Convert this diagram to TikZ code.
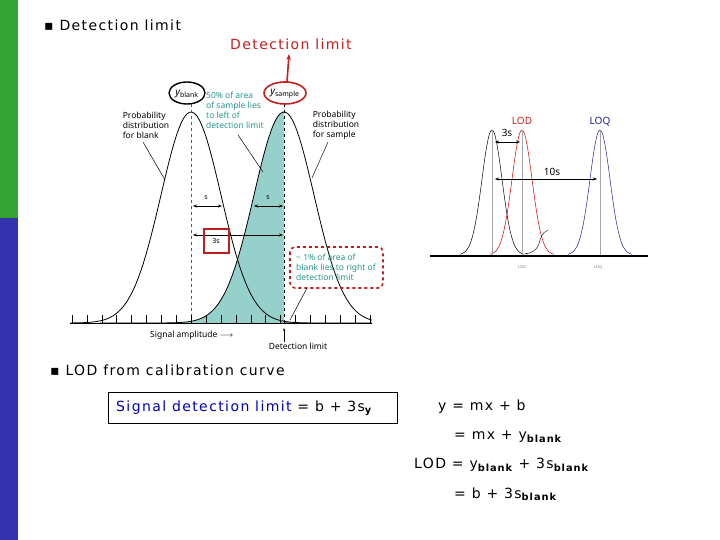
\documentclass[tikz,border=0pt]{standalone}
\usepackage{fontspec}
\setmainfont{DejaVu Sans}
\newfontfamily\nts{Noto Sans}
\newfontfamily\wide[LetterSpace=10]{DejaVu Sans}
\usetikzlibrary{arrows.meta}
\definecolor{teal1}{RGB}{150,208,202}
\definecolor{tealtxt}{RGB}{40,150,140}
\definecolor{redc}{RGB}{200,30,30}
\definecolor{boxred}{RGB}{190,30,30}
\definecolor{navyc}{RGB}{30,30,150}
\tikzset{
 lbl/.style={font=\nts\fontsize{8.5}{10}\selectfont\bfseries, align=left, inner sep=0pt},
 tl/.style={lbl, text=tealtxt, anchor=west},
 big/.style={font=\wide\fontsize{14}{16}\selectfont, inner sep=0pt, anchor=west},
 dim/.style={{Stealth[length=4pt,width=3pt]}-{Stealth[length=4pt,width=3pt]}, line width=0.5pt},
 eq/.style={font=\wide\fontsize{14}{16}\selectfont, inner sep=0pt, anchor=west},
}
\begin{document}
\begin{tikzpicture}[x=1pt,y=-1pt]
\useasboundingbox (0,0) rectangle (720,540);
\fill[white] (0,0) rectangle (720,540);
\fill[green!55!black!80] (0,0) rectangle (18,218);
\fill[blue!60!black!80] (0,218) rectangle (18,540);
\node[big] (t1) at (44,25) {\char"25AA\ Detection limit};
\node[big,text=redc] (dl) at (230,44) {Detection limit};
% left plot
\fill[teal1] plot[domain=100:284,samples=80] (\x,{323-211*exp(-0.5*((\x-284)/30)^2)}) -- (284,323) -- (100,323) -- cycle;
\fill[teal1!70!black] plot[domain=284:330,samples=30] (\x,{323-211*exp(-0.5*((\x-191)/30)^2)}) -- (330,323) -- (284,323) -- cycle;
\draw[line width=0.8pt] plot[domain=70:372,samples=120] (\x,{323-211*exp(-0.5*((\x-191)/30)^2)});
\draw[line width=0.8pt] plot[domain=100:372,samples=120] (\x,{323-211*exp(-0.5*((\x-284)/30)^2)});
\draw[dashed,gray!70!black,line width=0.6pt] (191,104) -- (191,323);
\draw[dashed,line width=1pt] (284,104) -- (284,323);
\draw[line width=1pt] (70,323) -- (372,323);
\foreach \i in {0,...,20} \draw[line width=0.6pt] ({72+\i*14.9},323) -- ({72+\i*14.9},315);
\draw[line width=1.4pt] (187,93) ellipse (18 and 11);
\node[font=\nts\fontsize{10}{10}\selectfont\itshape, inner sep=0pt] (yb) at (187,94) {y\textsubscript{\upshape blank}};
\draw[redc,line width=1.6pt] (285,93) ellipse (21 and 11);
\node[font=\nts\fontsize{10}{10}\selectfont\itshape, inner sep=0pt] (ys) at (285,94) {y\textsubscript{\upshape sample}};
\draw[redc,line width=1.6pt,-{Stealth[length=6pt]}] (287,82) -- (289,54);
\node[tl] (t50) at (206,110) {50\% of area\\of sample lies\\to left of\\detection limit};
\node[lbl] (pb) at (146,125) {Probability\\distribution\\for blank};
\node[lbl] (ps) at (336,125) {Probability\\distribution\\for sample};
\draw[line width=0.5pt] (143,142) -- (165,180);
\draw[line width=0.5pt] (328,142) -- (312,178);
\draw[line width=0.5pt] (238,135) -- (263,172);
\draw[dim] (193,206) -- (222,206);
\node[font=\nts\fontsize{7}{7}\selectfont,inner sep=0pt] (s1) at (206,198) {s};
\draw[dim] (254,206) -- (283,206);
\node[font=\nts\fontsize{7}{7}\selectfont,inner sep=0pt] (s2) at (268,198) {s};
\draw[dim] (193,235) -- (283,235);
\draw[boxred,line width=1.6pt] (204,229) rectangle (229,253);
\node[font=\nts\fontsize{7}{7}\selectfont,inner sep=0pt] (s3) at (216,241) {3s};
\draw[boxred,line width=1.6pt,dashed,rounded corners=5pt] (290,247) rectangle (383,288);
\node[tl] (t1p) at (296,267) {\textasciitilde\ 1\% of area of\\blank lies to right of\\detection limit};
\draw[line width=0.5pt] (307,288) -- (290,320);
\node[lbl,anchor=west] (sa) at (150,335) {Signal amplitude $\longrightarrow$};
\draw[line width=0.6pt,-{Stealth[length=3pt]}] (284,342) -- (284,328);
\node[lbl] (dlb) at (298,346) {Detection limit};
% right plot
\foreach \c/\m in {black/492, red!80!black/522, navyc/600}
 \draw[\c,line width=0.5pt] plot[domain={\m-32}:{\m+32},samples=80] (\x,{255-125*exp(-0.5*((\x-\m)/10)^2)});
\foreach \m in {492,522,600} \draw[gray!70,line width=0.4pt] (\m,130) -- (\m,255);
\draw[line width=1.6pt] (430,256) -- (648,256);
\node[font=\nts\fontsize{10}{10}\selectfont\bfseries,text=redc,inner sep=0pt] (lod) at (522,121) {LOD};
\node[font=\nts\fontsize{10}{10}\selectfont\bfseries,text=navyc,inner sep=0pt] (loq) at (600,122) {LOQ};
\node[font=\nts\fontsize{10}{10}\selectfont\bfseries,inner sep=0pt] (t3s) at (507,133) {3s};
\node[font=\nts\fontsize{10}{10}\selectfont\bfseries,inner sep=0pt] (t10s) at (552,172) {10s};
\draw[dim] (495,142) -- (520,142);
\draw[dim] (495,179) -- (597,179);
\node[font=\nts\fontsize{4}{4}\selectfont,text=gray,inner sep=0pt] (lodb) at (522,267) {LOD};
\node[font=\nts\fontsize{4}{4}\selectfont,text=gray,inner sep=0pt] (loqb) at (598,267) {LOQ};
\draw[line width=0.4pt,-{Stealth[length=2pt]}] (548,230) .. controls (535,236) and (545,250) .. (525,254);
% bottom
\node[big] (t2) at (50,370) {\char"25AA\ LOD from calibration curve};
\draw[line width=1pt] (108,392) rectangle (397,423);
\node[big] (sdl) at (116,408) {\textcolor{blue!70!black}{Signal detection limit} = b + 3s\textsubscript{\bfseries y}};
\node[eq] (e1) at (438,407) {y = mx + b};
\node[eq] (e2) at (454,437) {= mx + y\textsubscript{\bfseries blank}};
\node[eq] (e3) at (414,465) {LOD = y\textsubscript{\bfseries blank} + 3s\textsubscript{\bfseries blank}};
\node[eq] (e4) at (454,494) {= b + 3s\textsubscript{\bfseries blank}};
\end{tikzpicture}
\end{document}
